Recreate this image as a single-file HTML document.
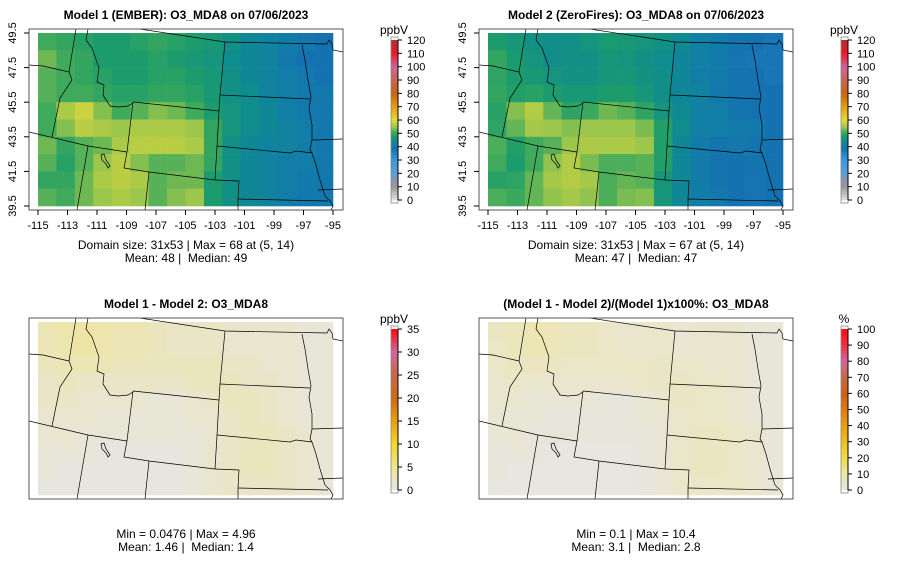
<!DOCTYPE html>
<html><head><meta charset="utf-8">
<style>
html,body{margin:0;padding:0;background:#fff;}
svg{display:block;font-family:"Liberation Sans",sans-serif;}
</style></head>
<body>
<svg id="chart" width="900" height="579" viewBox="0 0 900 579" xmlns="http://www.w3.org/2000/svg"></svg>
<script>
// ---- data (coarse grid; rows lat 49.5->39.5, cols lon -115->-95) ----
const lonTicks = [-115,-113,-111,-109,-107,-105,-103,-101,-99,-97,-95];
const latTicks = [39.5,41.5,43.5,45.5,47.5,49.5];
const model1 = [
[51,50,49,48,48,49,50,49,48,47,45,43,42,41,40,39],
[53,51,50,48,48,48,49,48,47,46,44,43,42,40,39,39],
[52,51,50,49,48,48,49,49,48,47,45,43,42,41,40,39],
[52,51,51,50,49,49,50,50,49,47,45,44,42,41,40,40],
[51,56,58,54,51,52,54,53,51,48,46,44,43,41,40,40],
[51,54,57,56,55,56,56,56,55,50,46,44,43,42,41,40],
[53,50,52,53,56,57,57,57,56,50,45,43,42,42,41,40],
[52,49,52,55,57,54,52,52,53,50,45,43,42,41,41,40],
[50,50,53,56,57,56,52,53,53,48,45,43,42,41,40,40],
[52,51,53,55,56,55,52,54,55,48,45,43,42,41,40,40]];
const diff = [
[3,3.5,4,3.5,3,3,2.5,2,2,2,1.5,1.5,1.5,1.5,1,1],
[3,3.5,4,3.5,3,3,2.5,2,2,2,1.5,1.5,1.5,1.5,1,1],
[2.5,3,3,3,2.5,2.5,2.5,2.5,2.5,2.5,2,2,1.5,1.5,1,1],
[2,2.5,2,2,2,2,2,2,2.5,2.5,2.5,2,2,1.5,1,1],
[2,2,1.5,1.5,1.5,1.5,1,1,1.5,2,2.5,2.5,2,1.5,1,1],
[1.5,1.5,1.5,1,1,1,1,1,1.5,1.5,2,2.5,2,1.5,1,1],
[1.5,1.5,1,1,1,1,1,1,1,1.5,2,2.5,2.5,2,1.5,1],
[1,1,1,0.5,0.5,0.5,0.5,0.5,1,1.5,2,2.5,2.5,2,1.5,1],
[1,0.5,0.5,0.5,0.5,0.5,0.5,0.5,1,1.5,2,2.5,2.5,2,1.5,1],
[0.5,0.5,0.5,0.5,0.5,0.5,0.5,0.5,1,1.5,2,2,2,2,1.5,1]];
const mainTicks = [0,10,20,30,40,50,60,70,80,90,100,110,120];
const diffTicks = [0,5,10,15,20,25,30,35];
const pctTicks = [0,10,20,30,40,50,60,70,80,90,100];

const NS="http://www.w3.org/2000/svg";
const svg=document.getElementById('chart');
function el(tag,attrs,parent){const e=document.createElementNS(NS,tag);for(const k in attrs)e.setAttribute(k,attrs[k]);(parent||svg).appendChild(e);return e;}
function hex(c){return [parseInt(c.slice(1,3),16),parseInt(c.slice(3,5),16),parseInt(c.slice(5,7),16)];}
function ramp(stops,v){
  if(v<=stops[0][0])return stops[0][1];
  for(let i=1;i<stops.length;i++){if(v<=stops[i][0]){const a=stops[i-1],b=stops[i];const t=(v-a[0])/(b[0]-a[0]);const A=hex(a[1]),B=hex(b[1]);return 'rgb('+A.map((x,j)=>Math.round(x+(B[j]-x)*t)).join(',')+')';}}
  return stops[stops.length-1][1];
}
const mainStops=[[0,'#e4e4e4'],[10,'#989898'],[15,'#8a96a8'],[20,'#5aa0d8'],[30,'#3c98dc'],[39,'#1472b0'],[41,'#127ea8'],[44,'#0f8c8e'],[48,'#1c9c6c'],[51,'#40aa5c'],[55,'#9cc64c'],[60,'#e8da3a'],[70,'#e4a010'],[80,'#cc6410'],[90,'#c86650'],[100,'#d0649a'],[110,'#f01828'],[120,'#b03030']];
const diffStops=[[0,'#e6e6e6'],[5,'#efe496'],[10,'#f0d828'],[15,'#e8a010'],[20,'#d06a10'],[25,'#c86848'],[30,'#d0689a'],[35,'#ff0a10']];
const pctStops=[[0,'#e6e6e6'],[10,'#eee6a8'],[20,'#f0dc40'],[30,'#f0c020'],[40,'#e8a010'],[50,'#dc7c10'],[60,'#d06010'],[70,'#c86848'],[80,'#d0689a'],[90,'#f03040'],[100,'#ff0a10']];

// geometry (panel 1 coords)
const X0=38,X1=333,Y0=33,Y1=206;
const xs=l=>X0+(l+115)/20*(X1-X0);
const ys=l=>Y1-(l-39.5)/10*(Y1-Y0);
const border=[
[[76,29],[69,72],[72,80],[60,98],[52,137]],
[[29,65],[43,66],[69,72]],
[[29,132],[88,146],[127,152]],
[[88,29],[86,40],[92,48],[99,68],[97,82],[104,85],[103,95],[110,106],[118,107],[128,106],[133,103]],
[[133,102],[219,111]],
[[133,102],[127,152],[124,168],[149,172],[215,180]],
[[225,42],[220,95],[219,111],[217,146],[215,180]],
[[133,28],[225,42],[327,44],[329,40],[332,44],[333,50],[343,52]],
[[220,95],[310,99]],
[[302,45],[305,60],[308,80],[311,97],[309,108],[312,125],[312,140],[310,150],[312,153]],
[[217,146],[290,153],[296,151],[312,153],[316,165],[320,180],[325,196],[330,201],[333,206],[331,210]],
[[215,180],[239,181],[238,199],[238,210]],
[[238,199],[328,201]],
[[149,172],[145,210]],
[[88,146],[77,210]],
[[312,140],[343,139]],[[318,190],[343,189]]
];
const lake=[[101,155],[104,154],[106,160],[110,166],[108,168],[106,164],[102,160]];

function panel(ox,oy,opts){
  const g=el('g',{transform:`translate(${ox},${oy})`});
  
  
  const t=el('text',{x:186,y:19,'text-anchor':'middle','font-size':12,'font-weight':'bold'},g);
  t.textContent=opts.title;
  
  
  const cells=el('g',{},g);
  
  
  const rows=opts.grid.length,cols=opts.grid[0].length;
  for(let r=0;r<rows;r++)for(let c=0;c<cols;c++){
    const lonA=-115+c*20/cols,lonB=-115+(c+1)*20/cols;
    const latA=49.5-r*10/rows,latB=49.5-(r+1)*10/rows;
    const x=xs(lonA),y=ys(latA);
    const rc=el('rect',{x:x,y:y,width:xs(lonB)-x+0.3,height:ys(latB)-y+0.3,fill:ramp(opts.stops,opts.grid[r][c])},cells);
    
    
  }
  const cp='clip'+ox+'_'+oy;
  const cpe=el('clipPath',{id:cp},g);el('rect',{x:29,y:29,width:314,height:181},cpe);
  const bg=el('g',{'clip-path':`url(#${cp})`,fill:'none',stroke:'#000','stroke-width':0.7},g);
  
  
  border.forEach(p=>el('polyline',{points:p.map(q=>q.join(',')).join(' ')},bg));
  el('polygon',{points:lake.map(q=>q.join(',')).join(' ')},bg);
  const fr=el('rect',{x:29,y:29,width:314,height:181,fill:'none',stroke:'#555','stroke-width':1},g);
  
  
  if(opts.axes){
    lonTicks.forEach(v=>{const x=xs(v);el('line',{x1:x,x2:x,y1:210,y2:215,stroke:'#000'},g);
      const tt=el('text',{x:x,y:229,'text-anchor':'middle','font-size':11},g);tt.textContent=v;
      
      });
    latTicks.forEach(v=>{const y=ys(v);el('line',{x1:24,x2:29,y1:y,y2:y,stroke:'#000'},g);
      const tt=el('text',{x:16,y:y,'text-anchor':'middle','font-size':11,transform:`rotate(-90 16 ${y})`},g);tt.textContent=v.toFixed(1);
      
      });
  }
  opts.sub.forEach((s,i)=>{const tt=el('text',{x:186,y:249+i*13,'text-anchor':'middle','font-size':12},g);tt.textContent=s;
    
    });
  // colorbar
  const cb=el('g',{},g);
  
  
  const ticks=opts.ticks,vmax=ticks[ticks.length-1];
  const by0=opts.cbTop,by1=opts.cbBot,bx=opts.cbx;
  const ty=v=>by1-v/vmax*(by1-by0);
  const n=60;
  for(let i=0;i<n;i++){const v0=i/n*vmax,v1=(i+1)/n*vmax;
    el('rect',{x:bx,y:ty(v1),width:7,height:ty(v0)-ty(v1)+0.4,fill:ramp(opts.stops,(v0+v1)/2)},cb);}
  el('rect',{x:bx,y:by0-3,width:7,height:by1-by0+6,fill:'none',stroke:'#888','stroke-width':0.8},cb);
  ticks.forEach(v=>{const y=ty(v);el('line',{x1:bx+7,x2:bx+11,y1:y,y2:y,stroke:'#000'},cb);
    const tt=el('text',{x:bx+16,y:y+4,'font-size':11},cb);tt.textContent=v;
    
    });
  el('line',{x1:bx+7,x2:bx+7,y1:by0,y2:by1,stroke:'#000'},cb);
  const ut=el('text',{x:bx+3,y:by0-6,'text-anchor':'middle','font-size':12},cb);ut.textContent=opts.unit;
  
  
}
const model2=model1.map((r,i)=>r.map((v,j)=>v-diff[i][j]));
const pct=model1.map((r,i)=>r.map((v,j)=>diff[i][j]/v*100));
panel(0,0,{name:'model1-panel',title:'Model 1 (EMBER): O3_MDA8 on 07/06/2023',grid:model1,stops:mainStops,axes:true,
  sub:['Domain size: 31x53 | Max = 68 at (5, 14)','Mean: 48 |\u00a0 Median: 49'],ticks:mainTicks,cbTop:40,cbBot:200,cbx:391,unit:'ppbV'});
panel(450,0,{name:'model2-panel',title:'Model 2 (ZeroFires): O3_MDA8 on 07/06/2023',grid:model2,stops:mainStops,axes:true,
  sub:['Domain size: 31x53 | Max = 67 at (5, 14)','Mean: 47 |\u00a0 Median: 47'],ticks:mainTicks,cbTop:40,cbBot:200,cbx:391,unit:'ppbV'});
panel(0,289,{name:'difference-panel',title:'Model 1 - Model 2: O3_MDA8',grid:diff,stops:diffStops,axes:false,
  sub:['Min = 0.0476 | Max = 4.96','Mean: 1.46 |\u00a0 Median: 1.4'],ticks:diffTicks,cbTop:40,cbBot:201,cbx:391,unit:'ppbV'});
panel(450,289,{name:'percent-difference-panel',title:'(Model 1 - Model 2)/(Model 1)x100%: O3_MDA8',grid:pct,stops:pctStops,axes:false,
  sub:['Min = 0.1 | Max = 10.4','Mean: 3.1 |\u00a0 Median: 2.8'],ticks:pctTicks,cbTop:40,cbBot:201,cbx:391,unit:'%'});
</script>
</body></html>
